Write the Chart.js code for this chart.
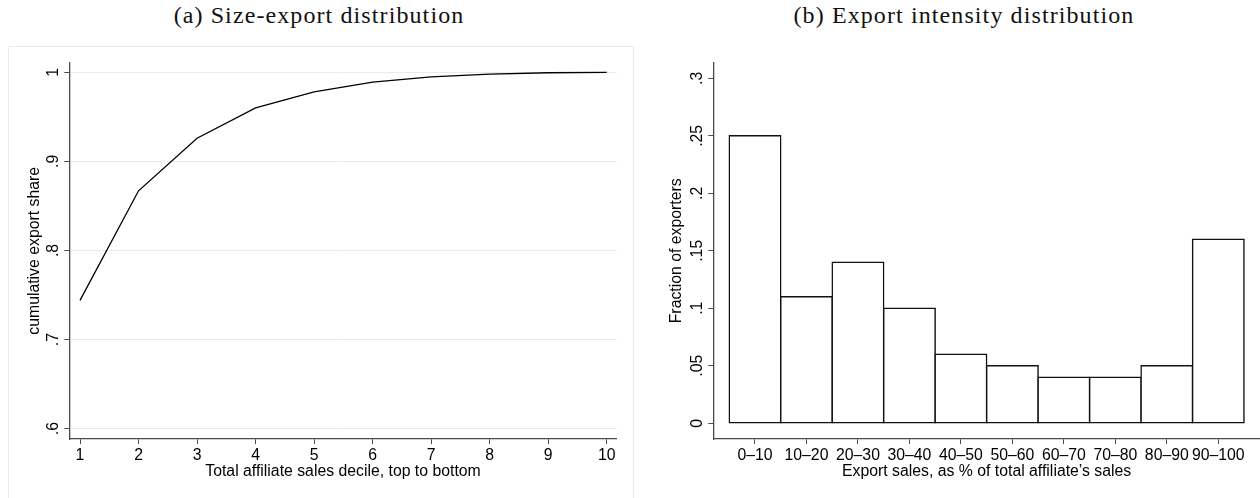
<!DOCTYPE html>
<html>
<head>
<meta charset="utf-8">
<script src="https://cdn.jsdelivr.net/npm/chart.js@4"></script>
<style>
  html, body { margin: 0; padding: 0; background: #fff; }
  #page { position: relative; width: 1260px; height: 498px; overflow: hidden; }
  .panel { position: absolute; top: 0; width: 630px; height: 498px; }
  .frame { position: absolute; left: 8px; top: 46px; width: 624px; height: 470px; border: 1px solid #e6edf0; }
  .title { position: absolute; top: 0; height: 30px; line-height: 30px; width: 600px; text-align: center;
           font-family: "Liberation Serif", serif; font-size: 24px; letter-spacing: 1.1px; color: #111; }
</style>
</head>
<body>
<div id="page">
  <div class="frame"></div>
  <div class="title" style="left: 19px;">(a) Size-export distribution</div>
  <div class="title" style="left: 664px;">(b) Export intensity distribution</div>
  <div class="panel" style="left: 0;"><canvas id="sizeChart"></canvas></div>
  <div class="panel" style="left: 630px;"><canvas id="intensityChart"></canvas></div>
</div>
<script>
// (a) cumulative export share by sales decile
var deciles = [1, 2, 3, 4, 5, 6, 7, 8, 9, 10];
var exportShare = [0.744, 0.867, 0.926, 0.960, 0.978, 0.989, 0.995, 0.998, 0.9995, 1.0];
var shareTicks = [0.6, 0.7, 0.8, 0.9, 1];
var shareTickLabels = [".6", ".7", ".8", ".9", "1"];

// (b) export intensity histogram
var intensityBins = ["0\u201310", "10\u201320", "20\u201330", "30\u201340", "40\u201350",
                     "50\u201360", "60\u201370", "70\u201380", "80\u201390", "90\u2013100"];
var exporterFraction = [0.25, 0.11, 0.14, 0.10, 0.06, 0.05, 0.04, 0.04, 0.05, 0.16];
var fractionTicks = [0, 0.05, 0.1, 0.15, 0.2, 0.25, 0.3];
var fractionTickLabels = ["0", ".05", ".1", ".15", ".2", ".25", ".3"];

var sans = "'Liberation Sans', Arial, sans-serif";
var fontSize = 15.8;
var axisColor = "#4a4a4a";

// Stata draws the y labels turned on their side; Chart.js can't, so do it here
var rotatedYLabels = {
    id: "rotatedYLabels",
    afterDraw: function(chart, args, opts) {
        var scale = chart.scales.y;
        var ctx = chart.ctx;
        ctx.save();
        ctx.font = fontSize + "px " + sans;
        ctx.fillStyle = "#000";
        ctx.textAlign = "center";
        ctx.textBaseline = "alphabetic";
        scale.ticks.forEach(function(t, i) {
            var y = scale.getPixelForValue(t.value);
            ctx.save();
            ctx.translate(scale.right - opts.gap, y);
            ctx.rotate(-Math.PI / 2);
            ctx.fillText(opts.labels[i], 0, 0);
            ctx.restore();
        });
        ctx.restore();
    }
};

function yAxis(min, max, ticks, width, title, titlePad, showGrid) {
    return {
        type: "linear",
        min: min,
        max: max,
        afterBuildTicks: function(scale) {
            scale.ticks = ticks.map(function(v) { return { value: v }; });
        },
        afterFit: function(scale) { scale.width = width; },
        ticks: { display: false },
        grid: {
            display: true,
            drawOnChartArea: showGrid,
            color: "#e6edf0",
            lineWidth: 1,
            tickColor: axisColor,
            tickLength: 5,
            tickWidth: 1
        },
        border: { display: true, color: axisColor, width: 1.3 },
        title: {
            display: true,
            text: title,
            color: "#000",
            font: { family: sans, size: fontSize },
            padding: { top: titlePad, bottom: 0 }
        }
    };
}

function xAxis(min, max, ticks, labelFn, title) {
    return {
        type: "linear",
        min: min,
        max: max,
        offset: false,
        afterBuildTicks: function(scale) {
            scale.ticks = ticks.map(function(v) { return { value: v }; });
        },
        afterFit: function(scale) { scale.height = 59; },
        ticks: {
            autoSkip: false,
            maxRotation: 0,
            minRotation: 0,
            padding: 2,
            color: "#000",
            font: { family: sans, size: fontSize },
            callback: labelFn
        },
        grid: {
            display: true,
            offset: false,
            drawOnChartArea: false,
            tickColor: axisColor,
            tickLength: 5,
            tickWidth: 1
        },
        border: { display: true, color: axisColor, width: 1.3 },
        title: {
            display: true,
            text: title,
            color: "#000",
            font: { family: sans, size: fontSize },
            padding: { top: 0, bottom: 17.2 }
        }
    };
}

new Chart(document.getElementById("sizeChart"), {
    type: "line",
    data: {
        datasets: [{
            data: deciles.map(function(d, i) { return { x: d, y: exportShare[i] }; }),
            borderColor: "#000",
            borderWidth: 1.3,
            pointRadius: 0,
            tension: 0,
            fill: false
        }]
    },
    options: {
        responsive: true,
        maintainAspectRatio: false,
        animation: false,
        layout: { padding: { left: 0, right: 13.3, top: 62.7, bottom: 0 } },
        scales: {
            x: xAxis(0.817, 10.17, deciles, function(v) { return String(v); },
                     "Total affiliate sales decile, top to bottom"),
            y: yAxis(0.5884, 1.0108, shareTicks, 69.3,
                     "cumulative export share", 25.4, true)
        },
        plugins: {
            legend: { display: false },
            tooltip: { enabled: false },
            rotatedYLabels: { labels: shareTickLabels, gap: 11.5 }
        }
    },
    plugins: [rotatedYLabels]
});

new Chart(document.getElementById("intensityChart"), {
    type: "bar",
    data: {
        datasets: [{
            data: exporterFraction.map(function(f, i) { return { x: i, y: f }; }),
            backgroundColor: "#fff",
            borderColor: "#111",
            borderWidth: 1.5,
            borderSkipped: false,
            inflateAmount: 0.75,
            barPercentage: 1,
            categoryPercentage: 1
        }]
    },
    options: {
        responsive: true,
        maintainAspectRatio: false,
        animation: false,
        layout: { padding: { left: 0, right: 0, top: 62.7, bottom: 0 } },
        scales: {
            x: xAxis(-0.81, 9.81, intensityBins.map(function(b, i) { return i; }),
                     function(v) { return intensityBins[v]; },
                     "Export sales, as % of total affiliate\u2019s sales"),
            y: yAxis(-0.0137, 0.3136, fractionTicks, 83.3,
                     "Fraction of exporters", 37.1, false)
        },
        plugins: {
            legend: { display: false },
            tooltip: { enabled: false },
            rotatedYLabels: { labels: fractionTickLabels, gap: 11.5 }
        }
    },
    plugins: [rotatedYLabels]
});
</script>
</body>
</html>
